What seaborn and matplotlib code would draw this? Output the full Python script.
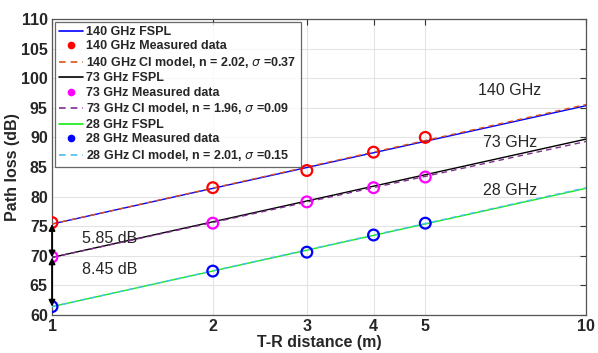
import numpy as np
import pandas as pd
import matplotlib
matplotlib.use("Agg")
import matplotlib.pyplot as plt
import seaborn as sns
from matplotlib.lines import Line2D

# ---- data ----
freqs = ["140 GHz", "73 GHz", "28 GHz"]
fspl_d1 = [75.36, 69.71, 61.39]          # FSPL at 1 m (dB)
ci_n = [2.02, 1.96, 2.01]
ci_sigma = [0.37, 0.09, 0.15]
meas_dist = [1, 2, 3, 4, 5]
meas_140 = [75.6, 81.5, 84.4, 87.5, 90.0]
meas_73 = [69.8, 75.5, 79.1, 81.5, 83.3]
meas_28 = [61.4, 67.4, 70.6, 73.5, 75.5]
line_dist = [1, 2, 3, 4, 5, 6, 7, 8, 9, 10]
xticks = [1, 2, 3, 4, 5, 10]
yticks = [60, 65, 70, 75, 80, 85, 90, 95, 100, 105, 110]

fspl_colors = ["#0000FF", "#000000", "#11EE11"]
meas_colors = ["#FF0000", "#FF00FF", "#0000FF"]
ci_colors = ["#D95319", "#7E2F8E", "#4DBEEE"]
meas_all = [meas_140, meas_73, meas_28]

sns.set_style("white")
plt.rcParams["font.family"] = ["Liberation Sans", "DejaVu Sans"]

fig = plt.figure(figsize=(5.98, 3.53), dpi=100)
ax = fig.add_axes([0.087, 0.108, 0.893, 0.838])

d = np.array(line_dist, dtype=float)
handles = []
labels = []
for i, f in enumerate(freqs):
    df_f = pd.DataFrame({"d": d, "pl": fspl_d1[i] + 20 * np.log10(d)})
    df_c = pd.DataFrame({"d": d, "pl": fspl_d1[i] + 10 * ci_n[i] * np.log10(d)})
    df_m = pd.DataFrame({"d": meas_dist, "pl": meas_all[i]})
    sns.lineplot(data=df_f, x="d", y="pl", ax=ax, color=fspl_colors[i], lw=1.0, zorder=3)
    sns.lineplot(data=df_c, x="d", y="pl", ax=ax, color=ci_colors[i], lw=1.0,
                 linestyle=(0, (4, 3)), zorder=4)
    ax.scatter(df_m["d"], df_m["pl"], s=60, facecolors="none",
               edgecolors=meas_colors[i], linewidths=1.6, zorder=5)
    handles += [Line2D([], [], color=fspl_colors[i], lw=1.2),
                Line2D([], [], color=meas_colors[i], marker="o", ls="none", ms=4.5),
                Line2D([], [], color=ci_colors[i], lw=1.2, ls=(0, (4, 3)))]
    labels += [f"{f} FSPL", f"{f} Measured data",
               f"{f} CI model, n = {ci_n[i]:.2f}, $\\sigma$ ={ci_sigma[i]:.2f}"]

ax.set_xscale("log")
ax.set_xlim(1, 10)
ax.set_ylim(60, 110)
ax.set_xticks(xticks)
ax.set_xticklabels([str(t) for t in xticks])
ax.xaxis.set_minor_locator(matplotlib.ticker.NullLocator())
ax.set_yticks(yticks)
ax.set_yticklabels([str(t) for t in yticks])
for lab in ax.get_xticklabels() + ax.get_yticklabels():
    lab.set_fontweight("bold")
    lab.set_fontsize(11.5)
ax.tick_params(direction="in", length=4, top=True, right=True, color="#333333", pad=3)
ax.grid(True, color="#E3E3E3", lw=0.8, zorder=0)
for s in ax.spines.values():
    s.set_color("#555555")
    s.set_linewidth(0.9)
ax.set_xlabel("T-R distance (m)", fontweight="bold", fontsize=11.5, labelpad=1)
ax.set_ylabel("Path loss (dB)", fontweight="bold", fontsize=11.5, labelpad=1)

leg = ax.legend(handles, labels, loc="upper left", bbox_to_anchor=(0.0, 1.0),
                prop={"weight": "bold", "size": 9.0}, frameon=True, fancybox=False,
                borderpad=0.35, labelspacing=0.2, handlelength=1.9, handletextpad=0.3,
                borderaxespad=0.2)
leg.get_frame().set_edgecolor("#444444")
leg.get_frame().set_linewidth(0.9)
leg.set_zorder(10)

# annotations
ax.annotate("", xy=(1, fspl_d1[0]), xytext=(1, fspl_d1[1]),
            arrowprops=dict(arrowstyle="<|-|>", color="black", lw=1.3,
                            mutation_scale=9, shrinkA=0, shrinkB=0), zorder=6)
ax.annotate("", xy=(1, fspl_d1[1]), xytext=(1, fspl_d1[2]),
            arrowprops=dict(arrowstyle="<|-|>", color="black", lw=1.3,
                            mutation_scale=9, shrinkA=0, shrinkB=0), zorder=6)
ax.text(1.14, 72.9, "5.85 dB", fontsize=11.5, va="center", ha="left")
ax.text(1.14, 67.6, "8.45 dB", fontsize=11.5, va="center", ha="left")
ax.text(7.2, 98.0, "140 GHz", fontsize=11.5, va="center", ha="center")
ax.text(7.2, 89.1, "73 GHz", fontsize=11.5, va="center", ha="center")
ax.text(7.2, 81.0, "28 GHz", fontsize=11.5, va="center", ha="center")

fig.savefig("out.png", dpi=100)
